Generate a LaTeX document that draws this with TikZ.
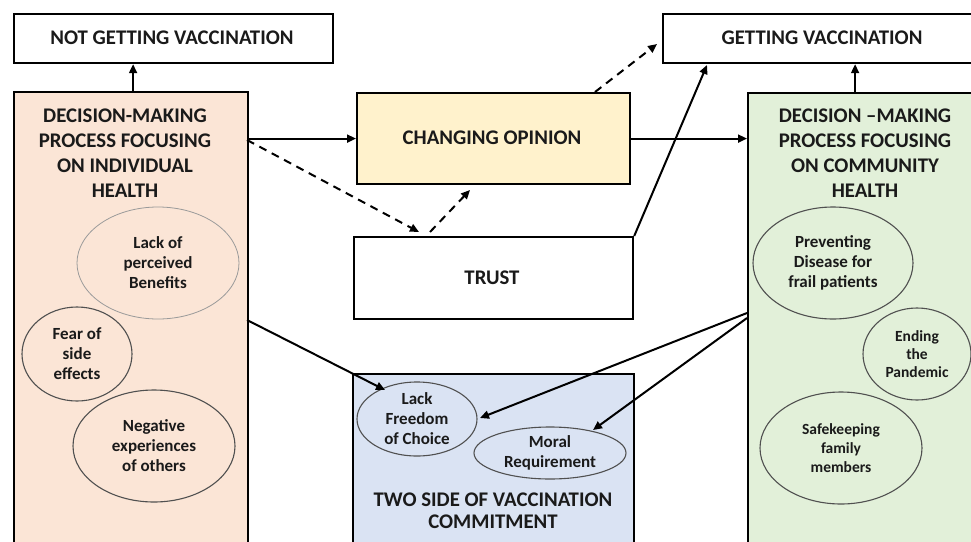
\documentclass[tikz,border=0pt]{standalone}
\usepackage{fontspec}
\setmainfont{Carlito}
\usetikzlibrary{shapes.geometric,arrows.meta}
\definecolor{peach}{HTML}{FBE5D6}
\definecolor{lemon}{HTML}{FFF2CC}
\definecolor{mint}{HTML}{E2F0D9}
\definecolor{sky}{HTML}{DAE3F3}
\definecolor{ringgray}{HTML}{505050}
\definecolor{lightring}{HTML}{9A9A9A}
\definecolor{ink}{HTML}{1A1A1A}
\tikzset{
  box/.style={draw=black, line width=2.2pt, rectangle, inner sep=0pt, anchor=north west},
  head/.style={font=\fontsize{20.8}{25}\selectfont\bfseries, align=center, inner sep=0pt, text=ink},
  oval/.style={draw=ringgray, line width=1.1pt, ellipse, inner sep=0pt, align=center,
     font=\fontsize{17}{20}\selectfont\bfseries, text=ink},
  arr/.style={line width=2pt, -{Triangle[length=9pt,width=8pt]}},
  darr/.style={arr, dash pattern=on 8pt off 6pt}
}
\begin{document}
\begin{tikzpicture}[x=1pt,y=-1pt]
\useasboundingbox (0,0) rectangle (971,541);
\clip (0,0) rectangle (971,541);
% top result boxes
\node[box, minimum width=319pt, minimum height=49pt] (notget) at (13,13) {};
\node[head] (notgettxt) at (172,38) {NOT GETTING VACCINATION};
\node[box, minimum width=330pt, minimum height=49pt] (get) at (662,13) {};
\node[head] (gettxt) at (822,38) {GETTING VACCINATION};
% side boxes
\node[box, fill=peach, minimum width=234pt, minimum height=470pt] (indiv) at (13,91) {};
\node[head] (indivtxt) at (125,153) {DECISION-MAKING\\PROCESS FOCUSING\\ON INDIVIDUAL\\HEALTH};
\node[box, fill=mint, minimum width=243pt, minimum height=470pt] (comm) at (747,92) {};
\node[head] (commtxt) at (865,153) {DECISION \textendash MAKING\\PROCESS FOCUSING\\ON COMMUNITY\\HEALTH};
% middle boxes
\node[box, fill=lemon, minimum width=273pt, minimum height=91pt] (opinion) at (356,92) {};
\node[head] (opiniontxt) at (492,138) {CHANGING OPINION};
\node[box, minimum width=279pt, minimum height=82pt] (trust) at (353,236) {};
\node[head] (trusttxt) at (492,278) {TRUST};
\node[box, fill=sky, minimum width=281pt, minimum height=190pt] (commit) at (352,373) {};
\node[head, font=\fontsize{20.8}{22}\selectfont\bfseries] (committxt) at (493,511) {TWO SIDE OF VACCINATION\\COMMITMENT};
% ovals, individual side
\node[oval, draw=lightring, line width=0.8pt, minimum width=162pt, minimum height=112pt] (benefit) at (158,263) {Lack of\\perceived\\Benefits};
\node[oval, minimum width=110pt, minimum height=94pt] (fear) at (77,354) {Fear of\\side\\effects};
\node[oval, minimum width=162pt, minimum height=112pt] (negative) at (154,446) {Negative\\experiences\\of others};
% ovals, community side
\node[oval, minimum width=160pt, minimum height=112pt] (prevent) at (833,263) {Preventing\\Disease for\\frail patients};
\node[oval, minimum width=108pt, minimum height=92pt, font=\fontsize{15.5}{18}\selectfont\bfseries] (ending) at (917,354) {Ending\\the\\Pandemic};
\node[oval, minimum width=162pt, minimum height=112pt, font=\fontsize{15.5}{19}\selectfont\bfseries] (safe) at (841,448) {Safekeeping\\family\\members};
% ovals, commitment
\node[oval, minimum width=120pt, minimum height=74pt] (freedom) at (417,419) {Lack\\Freedom\\of Choice};
\node[oval, minimum width=152pt, minimum height=52pt] (moral) at (550,453) {Moral\\Requirement};
% free ends
\coordinate (dA) at (247,140);
\coordinate (dB) at (419,232);
\coordinate (dC) at (430,232);
\coordinate (dD) at (470,190);
\coordinate (dE) at (595,92);
\coordinate (dF) at (657,44);
\coordinate (tG) at (707,65);
\coordinate (iL) at (247,320);
\coordinate (fIn) at (385,390);
\coordinate (cL1) at (747,313);
\coordinate (fIn2) at (480,418);
\coordinate (cL2) at (747,318);
\coordinate (mIn) at (593,430);
% connectors
\draw[arr] ([xshift=2pt]indiv.north) -- ([xshift=2pt]indiv.north |- notget.south);
\draw[arr] ([xshift=-14.5pt]comm.north) -- ([xshift=-14.5pt]comm.north |- get.south);
\draw[arr] (opinion.west -| indiv.east) -- (opinion.west);
\draw[arr] (opinion.east) -- (opinion.east -| comm.west);
\draw[darr] (dA) -- (dB);
\draw[darr] (dC) -- (dD);
\draw[darr] (dE) -- (dF);
\draw[arr] (trust.north east) -- (tG);
\draw[arr] (iL) -- (fIn);
\draw[arr] (cL1) -- (fIn2);
\draw[arr] (cL2) -- (mIn);
\end{tikzpicture}
\end{document}
